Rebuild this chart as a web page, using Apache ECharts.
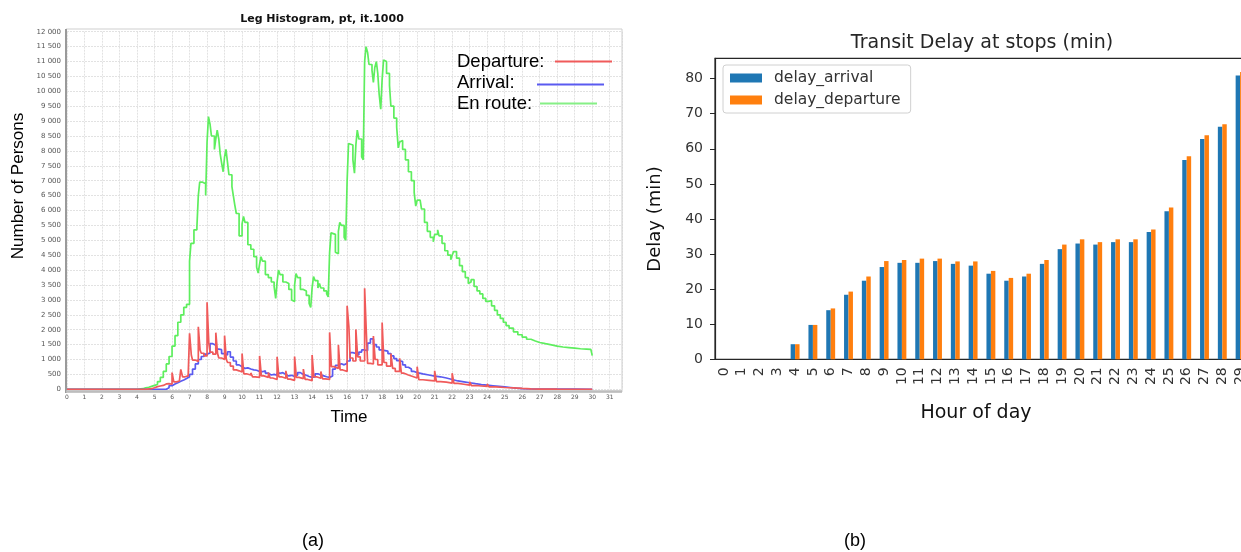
<!DOCTYPE html>
<html>
<head>
<meta charset="utf-8">
<script src="https://cdn.jsdelivr.net/npm/echarts@6/dist/echarts.min.js"></script>
<style>
  html, body { margin: 0; padding: 0; overflow: hidden; background: #fff; }
  #chart { width: 1300px; height: 552px; }
</style>
</head>
<body>
<div id="chart"></div>
<script>
// ---- (a) Leg histogram: step breakpoints [hour, persons]; each value holds until the next hour listed ----
const enRouteSteps = [
  [0,0],[4.0,20],[4.33,50],[4.5,70],[4.67,100],[4.83,130],[5.0,160],[5.17,260],[5.33,400],[5.5,600],
  [5.67,850],[5.83,1100],[6.0,1450],[6.17,1800],[6.33,2250],[6.5,2500],[6.67,2750],[6.83,2850],
  [7.0,4300],[7.08,4900],[7.25,5350],[7.42,5450],[7.5,6500],[7.58,6950],[7.75,6900],[7.92,6500],
  [8.0,8300],[8.08,9150],[8.17,8900],[8.25,8500],[8.42,8050],[8.5,8400],[8.58,8700],[8.67,8400],
  [8.75,7900],[8.83,7600],[8.92,7300],[9.0,7800],[9.08,8050],[9.17,7600],[9.25,7200],[9.42,6800],
  [9.5,6500],[9.58,6200],[9.67,5900],[9.83,5150],[10.0,5550],[10.08,5800],[10.17,5600],[10.33,4850],
  [10.5,4700],[10.67,4450],[10.83,4100],[10.92,3900],[11.0,4200],[11.08,4450],[11.17,4300],[11.33,3850],
  [11.5,3750],[11.67,3600],[11.83,3450],[11.92,3050],[12.0,3600],[12.08,4000],[12.17,3850],[12.33,3600],
  [12.5,3550],[12.67,3350],[12.83,3000],[12.92,2950],[13.0,3500],[13.08,3880],[13.17,3750],[13.33,3350],
  [13.5,3300],[13.67,3150],[13.83,2880],[13.92,2750],[14.0,3400],[14.08,3780],[14.17,3650],[14.33,3400],
  [14.42,3550],[14.5,3400],[14.67,3300],[14.83,3200],[14.92,3100],[15.0,4600],[15.08,5250],[15.17,5200],
  [15.33,4600],[15.42,4550],[15.5,5300],[15.58,5600],[15.67,5500],[15.83,5100],[15.92,5000],[16.0,7000],
  [16.08,8250],[16.17,8200],[16.33,7700],[16.42,7250],[16.5,8200],[16.58,8700],[16.67,8400],[16.83,7800],
  [16.92,7700],[17.0,11000],[17.08,11500],[17.17,11300],[17.25,10900],[17.42,10700],[17.5,10300],
  [17.58,10800],[17.67,11000],[17.75,10600],[17.83,9900],[17.92,9400],[18.0,10400],[18.08,11050],
  [18.17,11000],[18.25,10600],[18.42,10200],[18.5,9500],[18.67,9100],[18.83,8800],[18.92,8100],
  [19.0,8300],[19.08,8350],[19.17,8050],[19.33,7700],[19.5,7300],[19.67,7000],[19.83,6600],[19.92,6150],
  [20.0,6350],[20.17,6400],[20.25,6050],[20.42,5600],[20.58,5300],[20.75,5100],[20.92,4950],[21.0,5200],
  [21.17,5350],[21.25,5150],[21.42,4900],[21.58,4650],[21.75,4500],[21.92,4350],[22.0,4500],[22.08,4620],
  [22.25,4400],[22.42,4150],[22.58,3950],[22.75,3750],[22.92,3550],[23.0,3600],[23.08,3680],[23.25,3450],
  [23.42,3300],[23.58,3200],[23.75,3050],[23.92,2950],[24.08,2980],[24.25,2800],[24.42,2650],[24.58,2500],
  [24.75,2380],[24.92,2250],[25.08,2140],[25.25,2050],[25.5,1930],[25.75,1830],[26.0,1750],[26.25,1680],
  [26.5,1620],[26.75,1570],[27.0,1530],[27.33,1490],[27.67,1450],[28.0,1420],[28.33,1400],[28.67,1380],
  [29.0,1360],[29.33,1350],[29.67,1340],[29.92,1330],[30.0,1130]
];
const arrivalSteps = [
  [0,0],[5.5,0],[5.67,50],[5.83,120],[6.0,180],[6.17,220],[6.33,270],[6.5,310],[6.67,360],[6.83,420],
  [7.0,500],[7.17,680],[7.33,850],[7.5,1000],[7.67,1100],[7.83,1180],[8.0,1220],[8.17,1530],[8.33,1480],
  [8.5,1350],[8.67,1330],[8.83,1200],[9.0,1150],[9.17,1260],[9.33,1080],[9.5,950],[9.67,820],[9.83,760],
  [10.0,700],[10.17,720],[10.33,680],[10.5,650],[10.67,640],[10.83,600],[11.0,590],[11.17,620],[11.33,540],
  [11.5,480],[11.67,500],[11.83,470],[12.0,540],[12.17,560],[12.33,500],[12.5,450],[12.67,470],[12.83,430],
  [13.0,480],[13.17,560],[13.33,500],[13.5,470],[13.67,430],[13.83,400],[14.0,420],[14.17,520],[14.33,480],
  [14.5,450],[14.67,420],[14.83,400],[15.0,450],[15.17,680],[15.33,800],[15.5,860],[15.67,820],[15.83,870],
  [16.0,950],[16.17,1230],[16.33,1200],[16.5,1150],[16.67,1250],[16.83,1320],[17.0,1300],[17.17,1550],
  [17.33,1690],[17.5,1500],[17.67,1420],[17.83,1320],[18.0,1300],[18.17,1280],[18.33,1200],[18.5,1120],
  [18.67,1030],[18.83,960],[19.0,930],[19.17,820],[19.33,740],[19.5,680],[19.67,600],[19.83,560],
  [20.0,520],[20.33,480],[20.67,440],[21.0,420],[21.33,380],[21.67,330],[22.0,280],[22.33,250],[22.67,220],
  [23.0,190],[23.33,160],[23.67,140],[24.0,120],[24.33,100],[24.67,80],[25.0,60],[25.33,40],[25.67,25],
  [26.0,15],[26.5,8],[27.0,5],[28.0,3],[29.0,0],[30.0,0]
];
const departureSteps = [
  [0,0],[4.5,20],[4.83,50],[5.0,90],[5.17,110],[5.33,130],[5.5,180],[5.67,190],[5.83,170],
  [6.0,560],[6.1,250],[6.25,280],[6.42,330],[6.5,670],[6.6,420],[6.75,450],[6.92,400],
  [7.0,1880],[7.1,1150],[7.17,980],[7.33,930],[7.5,2100],[7.6,1320],[7.67,1210],[7.83,1120],
  [8.0,2920],[8.1,1550],[8.17,1250],[8.33,1180],[8.5,1900],[8.6,1200],[8.67,1050],[8.83,1000],
  [9.0,1800],[9.1,1000],[9.17,900],[9.33,780],[9.5,650],[9.67,620],[9.83,580],
  [10.0,1200],[10.1,520],[10.25,480],[10.5,550],[10.6,420],[10.75,400],
  [11.0,1120],[11.1,450],[11.25,400],[11.5,560],[11.6,380],[11.75,330],
  [12.0,1090],[12.1,420],[12.25,370],[12.5,620],[12.6,340],[12.75,300],
  [13.0,1100],[13.1,400],[13.25,360],[13.5,680],[13.6,330],[13.75,290],
  [14.0,1150],[14.1,420],[14.25,370],[14.5,600],[14.6,350],[14.75,330],
  [15.0,1910],[15.1,760],[15.25,700],[15.5,1490],[15.6,650],[15.75,600],
  [16.0,2800],[16.1,2100],[16.17,1050],[16.33,950],[16.5,2010],[16.6,1090],[16.75,950],
  [17.0,3390],[17.1,1860],[17.17,870],[17.33,850],[17.5,1790],[17.6,1000],[17.75,820],
  [18.0,2240],[18.1,900],[18.25,780],[18.5,1200],[18.6,700],[18.75,600],
  [19.0,1040],[19.1,540],[19.25,480],[19.5,430],[19.75,380],
  [20.0,760],[20.1,320],[20.33,300],[20.67,280],
  [21.0,620],[21.1,260],[21.33,240],[21.67,210],
  [22.0,540],[22.1,200],[22.33,170],[22.67,140],
  [23.0,250],[23.1,120],[23.5,100],
  [24.0,180],[24.1,80],[24.5,60],
  [25.0,50],[25.5,30],[26.0,15],[26.5,8],[27.0,4],[28.0,0],[30.0,0]
];
const timeTicks = [0,1,2,3,4,5,6,7,8,9,10,11,12,13,14,15,16,17,18,19,20,21,22,23,24,25,26,27,28,29,30,31];

// ---- (b) Transit delay at stops per hour of day (minutes) ----
const hours = ['0','1','2','3','4','5','6','7','8','9','10','11','12','13','14','15','16','17','18','19',
               '20','21','22','23','24','25','26','27','28','29'];
const delayArrival = [0,0,0,0,4.3,9.8,14.0,18.4,22.4,26.3,27.5,27.5,28.0,27.2,26.7,24.4,22.4,23.6,27.2,
                      31.4,33.0,32.7,33.4,33.4,36.3,42.2,56.8,62.8,66.3,80.9];
const delayDeparture = [0,0,0,0,4.3,9.8,14.5,19.3,23.6,28.0,28.3,28.7,28.7,27.9,27.9,25.2,23.2,24.4,28.3,
                        32.7,34.2,33.4,34.2,34.2,37.0,43.3,57.9,63.9,67.0,81.9];
const delayTicks = [0,10,20,30,40,50,60,70,80];

const chart = echarts.init(document.getElementById('chart'), null, { renderer: 'canvas' });

function thousands(v) {
  return v >= 1000 ? Math.floor(v / 1000) + ' ' + String(v % 1000).padStart(3, '0') : String(v);
}

const SANS = 'Liberation Sans';
const DJ = 'DejaVu Sans';
const RED = '#f05a5a', BLUE = '#5a5af0', GREEN = '#5eee5e';

function txt(text, x, y, size, opts) {
  opts = opts || {};
  return {
    type: 'text', x: x, y: y, rotation: opts.rotation || 0, z: 100,
    style: {
      text: text, fill: opts.color || '#000',
      fontSize: size, fontFamily: opts.family || SANS, fontWeight: opts.weight || 'normal',
      align: opts.align || 'center', verticalAlign: 'middle'
    }
  };
}
function seg(x1, y1, x2, y2, color, width) {
  return { type: 'line', z: 100, shape: { x1: x1, y1: y1, x2: x2, y2: y2 },
           style: { stroke: color, lineWidth: width } };
}

const option = {
  animation: false,
  backgroundColor: '#fff',
  grid: [
    { left: 67, top: 31.7, width: 555, height: 357.6, show: false },
    { left: 715, top: 58.3, width: 534, height: 301, show: true, borderColor: '#262626', borderWidth: 1.2,
      backgroundColor: 'transparent' }
  ],
  xAxis: [
    {
      gridIndex: 0, type: 'value', min: 0, max: 31.7, interval: 1,
      axisLine: { show: false }, axisTick: { show: false },
      axisLabel: { customValues: timeTicks, fontSize: 6, color: '#555', margin: 5, fontFamily: DJ },
      splitLine: { show: true, lineStyle: { color: '#e2e2e2', width: 1, type: [2, 1] } }
    },
    {
      gridIndex: 1, type: 'category', data: hours,
      axisLine: { lineStyle: { color: '#262626', width: 1.2 } },
      axisTick: { alignWithLabel: true, length: 5, lineStyle: { color: '#262626' } },
      axisLabel: { rotate: 90, fontSize: 14, color: '#333', margin: 8, fontFamily: DJ, interval: 0 },
      splitLine: { show: false }
    }
  ],
  yAxis: [
    {
      gridIndex: 0, type: 'value', min: 0, max: 12000, interval: 500,
      axisLine: { show: false }, axisTick: { show: false },
      axisLabel: { fontSize: 7, color: '#555', margin: 6, fontFamily: DJ, formatter: thousands },
      splitLine: { show: true, lineStyle: { color: '#e2e2e2', width: 1, type: [2, 1] } }
    },
    {
      gridIndex: 1, type: 'value', min: 0, max: 85.8,
      axisLine: { show: true, lineStyle: { color: '#262626', width: 1.2 } },
      axisTick: { show: true, customValues: delayTicks, length: 5, lineStyle: { color: '#262626' } },
      axisLabel: { customValues: delayTicks, fontSize: 14, color: '#333', margin: 12, fontFamily: DJ },
      splitLine: { show: false }
    }
  ],
  legend: {
    data: ['delay_arrival', 'delay_departure'],
    orient: 'vertical', left: 723, top: 65,
    icon: 'rect', itemWidth: 32, itemHeight: 9, itemGap: 6,
    padding: [5, 10, 5, 7],
    borderColor: '#d0d0d0', borderWidth: 1, borderRadius: 3, backgroundColor: '#fff',
    textStyle: { fontSize: 15.5, color: '#333', fontFamily: DJ, padding: [0, 0, 0, 7] }
  },
  series: [
    { name: 'En route:', type: 'line', xAxisIndex: 0, yAxisIndex: 0, step: 'end', showSymbol: false,
      data: enRouteSteps, lineStyle: { color: GREEN, width: 1.7 }, itemStyle: { color: GREEN } },
    { name: 'Arrival:', type: 'line', xAxisIndex: 0, yAxisIndex: 0, step: 'end', showSymbol: false,
      data: arrivalSteps, lineStyle: { color: BLUE, width: 1.7 }, itemStyle: { color: BLUE } },
    { name: 'Departure:', type: 'line', xAxisIndex: 0, yAxisIndex: 0, step: 'end', showSymbol: false,
      data: departureSteps, lineStyle: { color: RED, width: 1.7 }, itemStyle: { color: RED } },
    { name: 'delay_arrival', type: 'bar', xAxisIndex: 1, yAxisIndex: 1, data: delayArrival,
      barWidth: '25%', barGap: '0%', itemStyle: { color: '#1f77b4' } },
    { name: 'delay_departure', type: 'bar', xAxisIndex: 1, yAxisIndex: 1, data: delayDeparture,
      barWidth: '25%', barGap: '0%', itemStyle: { color: '#ff7f0e' } }
  ],
  graphic: [
    // frame and axis lines of the histogram plot
    { type: 'rect', z: 90, shape: { x: 66, y: 29, width: 556, height: 363 },
      style: { fill: 'none', stroke: '#cfcfcf', lineWidth: 1 } },
    seg(66, 29, 66, 393, '#9a9a9a', 2),
    seg(66, 391.5, 622, 391.5, '#bdbdbd', 2.5),
    // histogram title, axis names and legend
    txt('Leg Histogram, pt, it.1000', 322, 19, 11, { weight: 'bold', family: DJ, color: '#111' }),
    txt('Number of Persons', 18, 186, 17, { rotation: Math.PI / 2 }),
    txt('Time', 349, 417, 17),
    txt('Departure:', 457, 62, 18.5, { align: 'left' }),
    seg(555, 61.5, 612, 61.5, RED, 1.8),
    txt('Arrival:', 457, 83, 18.5, { align: 'left' }),
    seg(537, 84.5, 604, 84.5, BLUE, 1.8),
    txt('En route:', 457, 103.5, 18.5, { align: 'left' }),
    seg(540, 103.5, 597, 103.5, '#86f086', 1.8),
    // delay chart title and axis names
    txt('Transit Delay at stops (min)', 982, 43.5, 19, { family: DJ, color: '#262626' }),
    txt('Hour of day', 976, 413, 19, { family: DJ, color: '#111' }),
    txt('Delay (min)', 655, 219, 18, { family: DJ, color: '#111', rotation: Math.PI / 2 }),
    // panel captions
    txt('(a)', 313, 541, 18),
    txt('(b)', 855, 541, 18)
  ]
};

chart.setOption(option);
</script>
</body>
</html>
